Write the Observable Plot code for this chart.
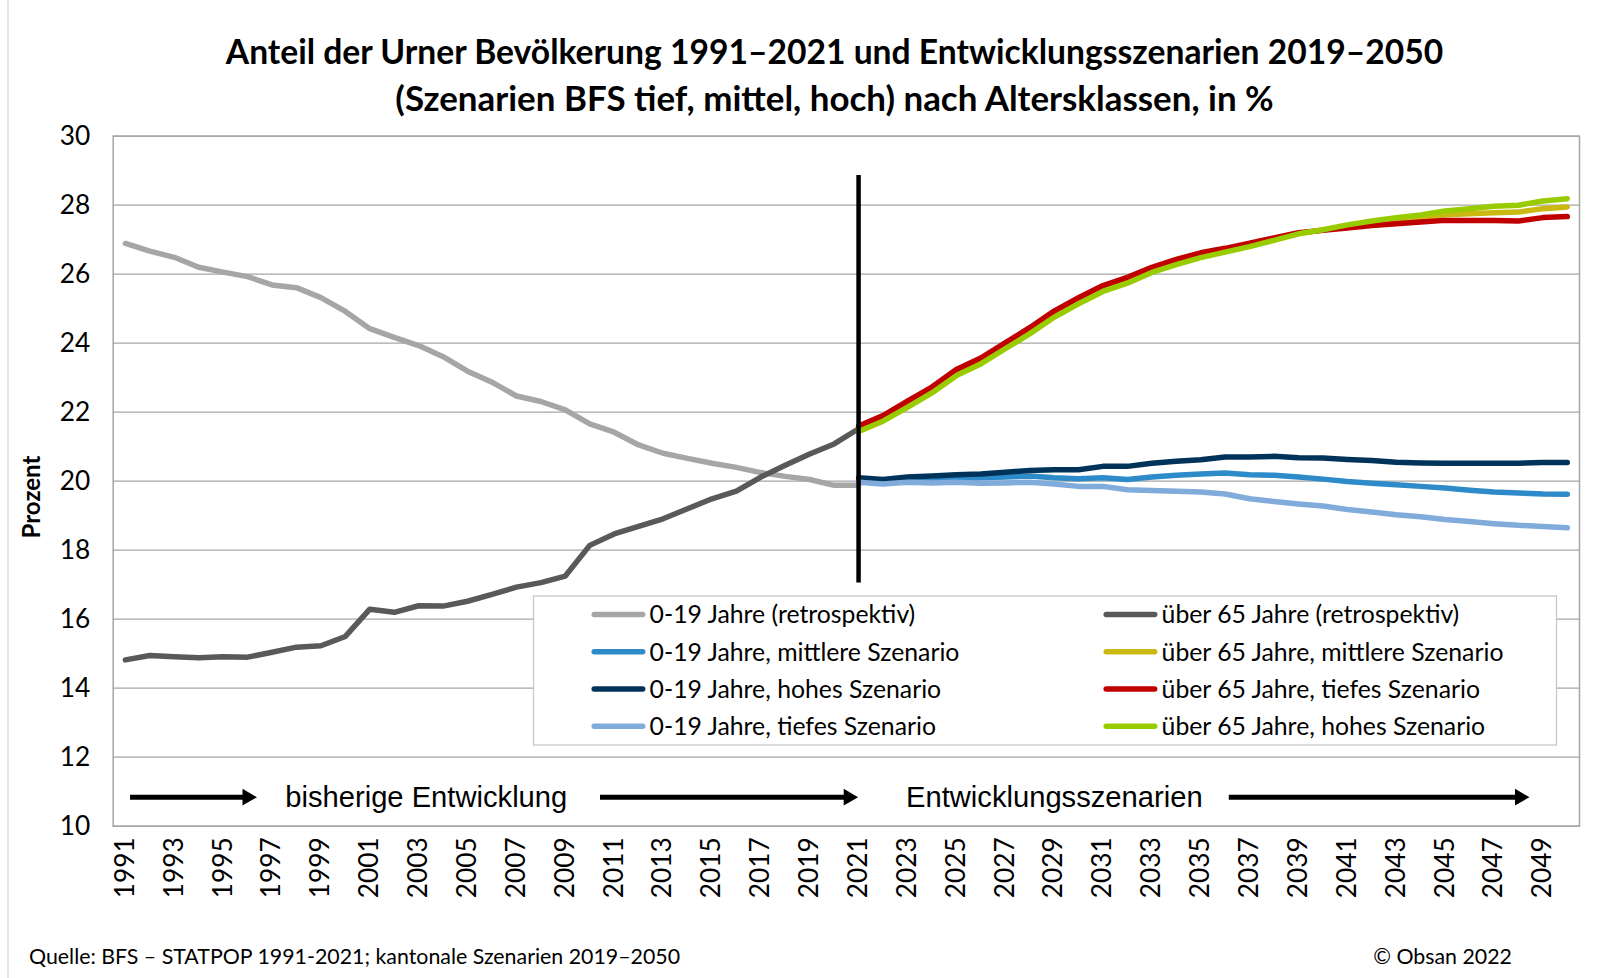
<!DOCTYPE html>
<html><head><meta charset="utf-8">
<script src="https://cdn.jsdelivr.net/npm/d3@7"></script>
<script src="https://cdn.jsdelivr.net/npm/@observablehq/plot@0.6"></script>
<style>
body{margin:0;background:#fff}
#wrap{position:relative;width:1622px;height:978px;overflow:hidden;background:#fff}
#wrap svg{position:absolute;left:0;top:0}
</style></head><body><div id="wrap"></div>
<script>
// ---------- DATA ----------
const retroYears = d3.range(1991, 2022);      // 1991..2021
const scenYears  = d3.range(2021, 2051);      // 2021..2050
const tickYears  = d3.range(1991, 2050, 2);   // 1991, 1993, ... 2049
const yTicks     = [10, 12, 14, 16, 18, 20, 22, 24, 26, 28, 30];

const young_retro = [26.89, 26.67, 26.49, 26.20, 26.06, 25.93, 25.69, 25.61, 25.32, 24.92,
  24.42, 24.17, 23.93, 23.61, 23.19, 22.87, 22.47, 22.31, 22.07, 21.66,
  21.42, 21.05, 20.81, 20.66, 20.52, 20.40, 20.25, 20.14, 20.05, 19.88, 19.88];
const old_retro = [14.82, 14.95, 14.91, 14.88, 14.91, 14.90, 15.04, 15.19, 15.23, 15.50,
  16.29, 16.20, 16.39, 16.38, 16.52, 16.72, 16.93, 17.06, 17.25, 18.14,
  18.47, 18.69, 18.91, 19.20, 19.49, 19.71, 20.12, 20.46, 20.79, 21.08, 21.52];

const young_mid = [20.00, 19.97, 20.00, 20.00, 20.07, 20.10, 20.12, 20.15, 20.10, 20.07,
  20.10, 20.05, 20.12, 20.17, 20.21, 20.24, 20.19, 20.17, 20.12, 20.06,
  19.99, 19.94, 19.90, 19.85, 19.80, 19.74, 19.69, 19.66, 19.63, 19.62];
const young_high = [20.10, 20.05, 20.12, 20.15, 20.19, 20.21, 20.26, 20.31, 20.33, 20.33,
  20.43, 20.43, 20.52, 20.58, 20.62, 20.70, 20.70, 20.72, 20.68, 20.67,
  20.63, 20.60, 20.55, 20.53, 20.52, 20.52, 20.52, 20.52, 20.54, 20.54];
const young_low = [19.97, 19.92, 19.97, 19.95, 19.97, 19.94, 19.95, 19.97, 19.92, 19.85,
  19.85, 19.75, 19.73, 19.71, 19.69, 19.63, 19.49, 19.41, 19.34, 19.28,
  19.18, 19.11, 19.03, 18.97, 18.89, 18.83, 18.77, 18.72, 18.69, 18.65];
const old_mid = [21.52, 21.82, 22.23, 22.64, 23.15, 23.48, 23.92, 24.36, 24.84, 25.23,
  25.58, 25.82, 26.12, 26.35, 26.55, 26.70, 26.85, 27.02, 27.18, 27.28,
  27.38, 27.47, 27.55, 27.62, 27.72, 27.75, 27.78, 27.80, 27.90, 27.95];
const old_low = [21.60, 21.90, 22.32, 22.73, 23.24, 23.57, 24.01, 24.45, 24.93, 25.32,
  25.67, 25.91, 26.20, 26.43, 26.62, 26.75, 26.90, 27.05, 27.20, 27.27,
  27.34, 27.41, 27.46, 27.51, 27.56, 27.56, 27.56, 27.54, 27.64, 27.67];
const old_high = [21.44, 21.74, 22.14, 22.56, 23.06, 23.40, 23.84, 24.27, 24.75, 25.14,
  25.50, 25.74, 26.05, 26.28, 26.48, 26.64, 26.80, 26.98, 27.17, 27.29,
  27.43, 27.54, 27.64, 27.72, 27.83, 27.90, 27.97, 28.00, 28.12, 28.19];

// series in Excel drawing order
const series = [
  {name: "0-19 Jahre (retrospektiv)",        years: retroYears, values: young_retro, color: "#a6a6a6"},
  {name: "über 65 Jahre (retrospektiv)",     years: retroYears, values: old_retro,   color: "#595959"},
  {name: "0-19 Jahre, mittlere Szenario",    years: scenYears,  values: young_mid,   color: "#2e8bca"},
  {name: "über 65 Jahre, mittlere Szenario", years: scenYears,  values: old_mid,     color: "#c9b912"},
  {name: "0-19 Jahre, hohes Szenario",       years: scenYears,  values: young_high,  color: "#003359"},
  {name: "über 65 Jahre, tiefes Szenario",   years: scenYears,  values: old_low,     color: "#c00000"},
  {name: "0-19 Jahre, tiefes Szenario",      years: scenYears,  values: young_low,   color: "#80abdb"},
  {name: "über 65 Jahre, hohes Szenario",    years: scenYears,  values: old_high,    color: "#99cc00"}
];
const legendCol1 = [0, 2, 4, 6];
const legendCol2 = [1, 3, 5, 7];

const divider = [{year: 2021, from: 17.05, to: 28.86}];
const arrows = [
  {from: 1991.21, to: 1996.38, y: 10.84},
  {from: 2010.44, to: 2020.98, y: 10.84},
  {from: 2036.17, to: 2048.45, y: 10.84}
];
const phaseLabels = [
  {label: "bisherige Entwicklung", x: 2003.31, y: 10.84},
  {label: "Entwicklungsszenarien", x: 2029.01, y: 10.84}
];

const titleLines = ["Anteil der Urner Bevölkerung 1991\u20132021 und Entwicklungsszenarien 2019\u20132050",
                    "(Szenarien BFS tief, mittel, hoch) nach Altersklassen, in %"];
const yLabel = "Prozent";
const source = "Quelle: BFS \u2013 STATPOP 1991-2021; kantonale Szenarien 2019\u20132050";
const credit = "\u00a9 Obsan 2022";

// ---------- FONT FITTING ----------
const CALI = "Lato, 'Open Sans', 'Noto Sans', sans-serif";
const ARIAL = "'Liberation Sans', Arial, sans-serif";
const ctx = document.createElement("canvas").getContext("2d");
function fit(text, family, weight, target) {
  ctx.font = `${weight} 100px ${family}`;
  return 100 * target / ctx.measureText(text).width;
}
const tickFs = fit("1991", CALI, 400, 61);
const arrowFs = (fit(phaseLabels[0].label, ARIAL, 400, 283) + fit(phaseLabels[1].label, ARIAL, 400, 296)) / 2;
const titleFs = [fit(titleLines[0], CALI, 700, 1219), fit(titleLines[1], CALI, 700, 880)];
const legendFs = (fit(series[0].name, CALI, 400, 266) + fit(series[3].name, CALI, 400, 344)) / 2;
const footFs = fit(source, CALI, 400, 652);
const yLabFs = fit(yLabel, CALI, 700, 83);

// ---------- CHART ----------
const W = 1622, H = 978;
const lineMarks = series.map(s =>
  Plot.line(s.years.map((yr, i) => ({year: yr, value: s.values[i]})), {
    x: "year", y: "value", stroke: s.color, strokeWidth: 5.5,
    strokeLinecap: "round", strokeLinejoin: "round"
  })
);

const chart = Plot.plot({
  width: W, height: H,
  marginLeft: 112.7, marginRight: 43, marginTop: 135.7, marginBottom: 152.3,
  style: {background: "transparent", color: "#000", fontFamily: CALI},
  x: {type: "linear", domain: [1990.5, 2050.5]},
  y: {type: "linear", domain: [10, 30]},
  marks: [
    Plot.gridY(yTicks, {stroke: "#a6a6a6", strokeOpacity: 1, strokeWidth: 1.3}),
    Plot.frame({stroke: "#a6a6a6", strokeWidth: 1.5}),
    Plot.axisY(yTicks, {tickSize: 0, tickPadding: 23, fontSize: tickFs, label: null, tickFormat: d => String(d), fill: "#000"}),
    Plot.axisX(tickYears, {tickSize: 0, tickRotate: -90, tickPadding: 11, fontSize: tickFs, label: null, tickFormat: d => String(d), fill: "#000"}),
    ...lineMarks,
    Plot.ruleX(divider, {x: "year", y1: "from", y2: "to", stroke: "#000", strokeWidth: 4.5}),
    Plot.ruleY(arrows, {y: "y", x1: "from", x2: d => d.to - 0.25, stroke: "#000", strokeWidth: 5}),
    Plot.dot(arrows, {x: "to", y: "y", symbol: "triangle", r: 6.2, rotate: 90, fill: "#000", stroke: "none", dx: -9.6}),
    Plot.text(phaseLabels, {x: "x", y: "y", text: "label", fontSize: arrowFs, fontFamily: ARIAL, fill: "#000"})
  ]
});
const wrap = document.getElementById("wrap");
wrap.appendChild(chart);

// ---------- OVERLAY: title, legend, labels ----------
const ov = d3.select(wrap).append("svg").attr("width", W).attr("height", H)
  .style("pointer-events", "none");
ov.append("line").attr("x1", 8).attr("x2", 8).attr("y1", 0).attr("y2", H)
  .attr("stroke", "#d9d9d9").attr("stroke-width", 1.3);

ov.selectAll("text.title").data(titleLines).join("text")
  .attr("x", 834.5).attr("y", (d, i) => [64, 110.5][i])
  .attr("text-anchor", "middle").attr("font-family", CALI).attr("font-weight", 700)
  .attr("font-size", (d, i) => titleFs[i]).attr("fill", "#000").text(d => d);

ov.append("text").attr("transform", "translate(40,497) rotate(-90)")
  .attr("text-anchor", "middle").attr("font-family", CALI).attr("font-weight", 700)
  .attr("font-size", yLabFs).attr("fill", "#000").text(yLabel);

ov.append("text").attr("x", 29).attr("y", 964).attr("font-family", CALI)
  .attr("font-size", footFs).attr("fill", "#000").text(source);
ov.append("text").attr("x", 1512).attr("y", 964).attr("text-anchor", "end").attr("font-family", CALI)
  .attr("font-size", footFs).attr("fill", "#000").text(credit);

// legend
const lg = ov.append("g");
lg.append("rect").attr("x", 533.5).attr("y", 596).attr("width", 1023).attr("height", 149)
  .attr("fill", "#fff").attr("stroke", "#c8c8c8").attr("stroke-width", 1.3);
const rowY = [614.4, 651.7, 689, 726.2];
[[legendCol1, 591.7, 649.6], [legendCol2, 1103.7, 1161.6]].forEach(([idx, sx, tx]) => {
  idx.forEach((si, r) => {
    const s = series[si];
    lg.append("line").attr("x1", sx + 2.5).attr("x2", sx + 51).attr("y1", rowY[r]).attr("y2", rowY[r])
      .attr("stroke", s.color).attr("stroke-width", 5.5).attr("stroke-linecap", "round");
    lg.append("text").attr("x", tx).attr("y", rowY[r] + 9).attr("font-family", CALI)
      .attr("font-size", legendFs).attr("fill", "#000").text(s.name);
  });
});
</script></body></html>
